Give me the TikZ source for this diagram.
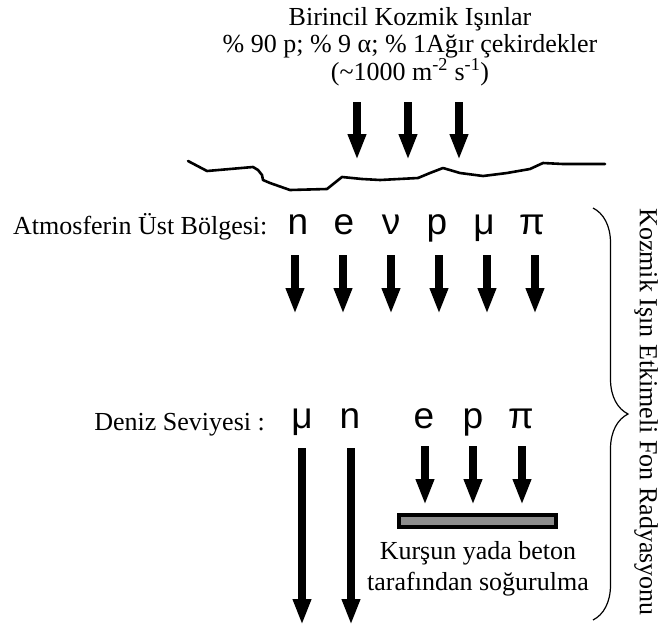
\documentclass[tikz,border=0pt]{standalone}
\usepackage{fontspec}
\setmainfont{Liberation Serif}
\newfontfamily\partfont{Liberation Sans}
\usetikzlibrary{arrows.meta,decorations.pathreplacing}
\definecolor{shieldgray}{RGB}{140,140,140}
\begin{document}
\begin{tikzpicture}[x=1pt,y=-1pt,
  lbl/.style={font=\fontsize{26}{27.5}\selectfont, inner sep=0pt},
  part/.style={font=\partfont\fontsize{37}{37}\selectfont, inner sep=0pt, anchor=base},
  bigarrow/.style={line width=7.5pt, -{Triangle[width=17pt,length=26pt]}},
  ground/.style={line width=2.6pt, line join=round, line cap=round},
]
\useasboundingbox (0,0) rectangle (662,627);

% title (anchor base = baseline of last line)
\node[lbl, align=center, anchor=base] (title) at (410,80)
  {Birincil Kozmik Işınlar\\
   \% 90 p; \% 9 α; \% 1Ağır çekirdekler\\
   (\textasciitilde1000 m\textsuperscript{-2} s\textsuperscript{-1})};

% primary arrows
\coordinate (t1s) at (357,102); \coordinate (t1e) at (357,160);
\coordinate (t2s) at (408,102); \coordinate (t2e) at (408,160);
\coordinate (t3s) at (459,102); \coordinate (t3e) at (459,160);
\draw[bigarrow] (t1s) -- (t1e);
\draw[bigarrow] (t2s) -- (t2e);
\draw[bigarrow] (t3s) -- (t3e);

% atmosphere boundary
\draw[ground] (188,161) -- (207,171) -- (253,167) -- (258,170) -- (262,175) -- (263,180)
  -- (270,183) -- (290,190) -- (327,189) -- (342,177) -- (362,179) -- (380,180)
  -- (418,178) -- (430,173) -- (443,168) -- (460,173) -- (483,176) -- (507,173)
  -- (530,169) -- (543,163) -- (563,164) -- (605,164);

% upper atmosphere
\node[lbl, anchor=base west] (atm) at (13,234) {Atmosferin Üst Bölgesi:};
\node[part] (u1) at (298,234) {n};
\node[part] (u2) at (344,234) {e};
\node[part] (u3) at (391,234) {ν};
\node[part] (u4) at (437,234) {p};
\node[part] (u5) at (484,234) {μ};
\node[part] (u6) at (532,234) {π};
\foreach \i/\x in {1/295,2/343,3/391,4/439,5/487,6/535}{
  \coordinate (us\i) at (\x,255); \coordinate (ue\i) at (\x,314);
  \draw[bigarrow] (us\i) -- (ue\i);
}

% sea level
\node[lbl, anchor=base east] (deniz) at (265,430) {Deniz Seviyesi :};
\node[part] (s1) at (302,428) {μ};
\node[part] (s2) at (350,428) {n};
\node[part] (s3) at (424,428) {e};
\node[part] (s4) at (473,428) {p};
\node[part] (s5) at (521,428) {π};
\foreach \i/\x in {1/302,2/351}{
  \coordinate (ls\i) at (\x,448); \coordinate (le\i) at (\x,625);
  \draw[bigarrow] (ls\i) -- (le\i);
}
\foreach \i/\x in {3/425,4/473,5/522}{
  \coordinate (ls\i) at (\x,446); \coordinate (le\i) at (\x,505);
  \draw[bigarrow] (ls\i) -- (le\i);
}

% shield
\node[draw, line width=4pt, fill=shieldgray, minimum width=157pt, minimum height=12pt,
      inner sep=0pt] (shield) at (477.5,521) {};
\node[font=\fontsize{26}{31}\selectfont, inner sep=0pt, align=center, anchor=base]
  (stext) at (478,590) {Kurşun yada beton\\tarafından soğurulma};

% brace and side label
\coordinate (bt) at (593,208); \coordinate (bb) at (593,620);
\draw[decorate, decoration={brace, amplitude=35pt}, line width=1.2pt] (bt) -- (bb);
\node[lbl, rotate=-90] (side) at (646,412) {Kozmik Işın Etkimeli Fon Radyasyonu};
\end{tikzpicture}
\end{document}
